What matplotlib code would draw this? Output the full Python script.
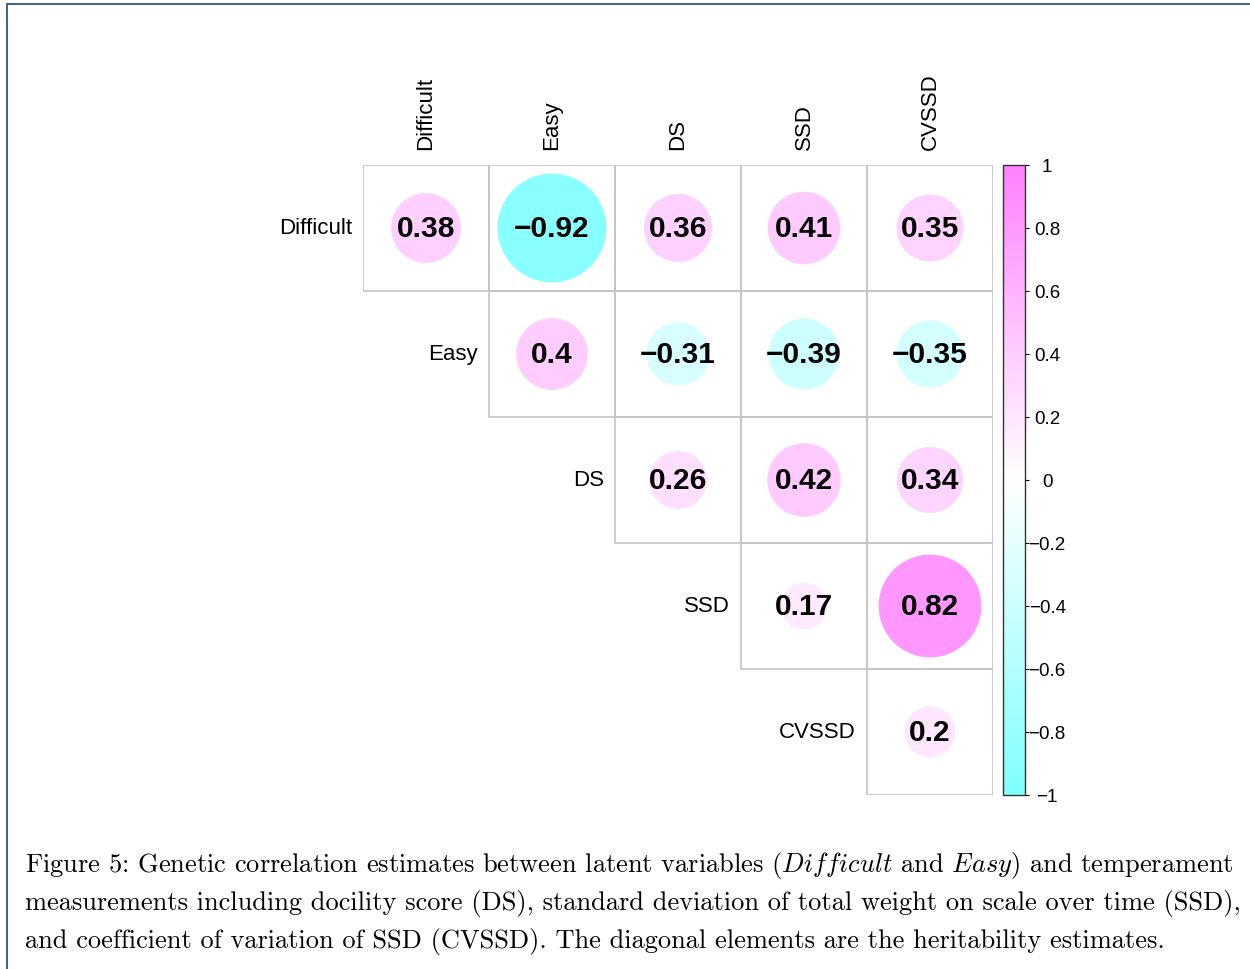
import matplotlib
matplotlib.use("Agg")
import matplotlib.pyplot as plt
import numpy as np
from matplotlib.patches import Circle, Rectangle
from matplotlib.colors import LinearSegmentedColormap
from matplotlib.cm import ScalarMappable
from matplotlib.colors import Normalize

traits = ["Difficult", "Easy", "DS", "SSD", "CVSSD"]
row_difficult = [0.38, -0.92, 0.36, 0.41, 0.35]
row_easy = [0.40, -0.31, -0.39, -0.35]
row_ds = [0.26, 0.42, 0.34]
row_ssd = [0.17, 0.82]
row_cvssd = [0.20]
rows = [row_difficult, row_easy, row_ds, row_ssd, row_cvssd]
cbar_ticks = [-1, -0.8, -0.6, -0.4, -0.2, 0, 0.2, 0.4, 0.6, 0.8, 1]

caption = [
    r"Figure 5: Genetic correlation estimates between latent variables ($\mathit{Difficult}$ and $\mathit{Easy}$) and temperament",
    "measurements including docility score (DS), standard deviation of total weight on scale over time (SSD),",
    "and coefficient of variation of SSD (CVSSD). The diagonal elements are the heritability estimates.",
]


def fmt(v):
    s = "{:.2f}".format(abs(v)).rstrip("0").rstrip(".")
    return ("\u2212" + s) if v < 0 else s


def main():
    plt.rcParams["mathtext.fontset"] = "cm"
    cmap = LinearSegmentedColormap.from_list("cw", ["#80FFFF", "#FFFFFF", "#FF80FF"])
    norm = Normalize(-1, 1)

    W, H = 1250, 970
    fig = plt.figure(figsize=(12.5, 9.7), dpi=100)

    # frame round the figure
    fig.add_artist(Rectangle((7 / W, -0.1), 1.2, 1 - 5 / H + 0.1, transform=fig.transFigure,
                             fill=False, edgecolor="#2f5283", linewidth=1.3))

    ax = fig.add_axes([363 / W, 1 - 796 / H, 630 / W, 630 / H])
    n = len(traits)
    ax.set_xlim(0, n)
    ax.set_ylim(n, 0)
    ax.axis("off")

    for i, vals in enumerate(rows):
        for k, v in enumerate(vals):
            j = i + k
            ax.add_patch(Rectangle((j, i), 1, 1, fill=False, edgecolor="#c4c4c4", linewidth=1.2))
            ax.add_patch(Circle((j + 0.5, i + 0.5), 0.45 * np.sqrt(abs(v)),
                                facecolor=cmap(norm(v)), edgecolor="none"))
            ax.text(j + 0.5, i + 0.5, fmt(v), ha="center", va="center", fontsize=21.5,
                    fontweight="bold", family="Liberation Sans")

    for i, name in enumerate(traits):
        ax.text(i - 0.087, i + 0.5, name, ha="right", va="center", fontsize=16,
                family="Liberation Sans")
        ax.text(i + 0.5, -0.127, name, ha="center", va="bottom", rotation=90,
                fontsize=16, family="Liberation Sans")

    cax = fig.add_axes([1003 / W, 1 - 796 / H, 22 / W, 630 / H])
    cb = fig.colorbar(ScalarMappable(norm=norm, cmap=cmap), cax=cax, ticks=cbar_ticks)
    cb.outline.set_edgecolor("#333333")
    cb.outline.set_linewidth(1.0)
    cax.tick_params(axis="y", length=3, width=0.8, pad=13, labelsize=13.5)
    cax.set_yticklabels([fmt(t) for t in cbar_ticks], family="Liberation Sans")
    for lab in cax.get_yticklabels():
        lab.set_horizontalalignment("center")

    for k, line in enumerate(caption):
        fig.text(25 / W, 1 - (872 + 38 * k) / H, line, ha="left", va="baseline",
                 fontsize=19, family="cmr10")

    fig.savefig("out.png", dpi=100)


if __name__ == '__main__':
    main()
